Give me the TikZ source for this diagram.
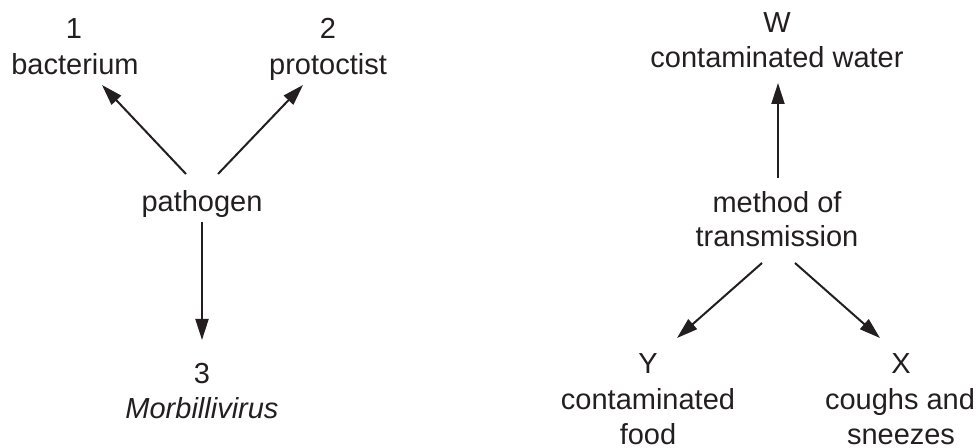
\documentclass[tikz,border=0pt]{standalone}
\usepackage{fontspec}
\setmainfont{Liberation Sans}
\usetikzlibrary{arrows.meta}
\definecolor{ink}{HTML}{231F20}
\tikzset{
  lbl/.style={anchor=base, inner sep=0pt, text=ink, font=\fontsize{14.5pt}{17.5pt}\selectfont},
  arr/.style={draw=ink, line width=1pt, -{Triangle[length=10.5pt,width=6.5pt]}}
}
\begin{document}
\begin{tikzpicture}[x=0.5pt,y=-0.5pt]
\useasboundingbox (0,0) rectangle (980,448);
% left diagram
\node[lbl] (n1) at (74,39) {1};
\node[lbl] (bact) at (75,75) {bacterium};
\node[lbl] (n2) at (328,39) {2};
\node[lbl] (prot) at (328,75) {protoctist};
\node[lbl] (path) at (202,212) {pathogen};
\node[lbl] (n3) at (202,384) {3};
\node[lbl, font=\fontsize{14.5pt}{17.5pt}\selectfont\itshape] (morb) at (202,419) {Morbillivirus};
\coordinate (pA) at (186,174);
\coordinate (pB) at (218,174);
\coordinate (pC) at (202,222);
\coordinate (tA) at (102,85);
\coordinate (tB) at (303,85);
\coordinate (tC) at (202,340);
\draw[arr] (pA) -- (tA);
\draw[arr] (pB) -- (tB);
\draw[arr] (pC) -- (tC);
% right diagram
\node[lbl] (W) at (777,33) {W};
\node[lbl] (water) at (777,68) {contaminated water};
\node[lbl] (meth) at (777,213) {method of};
\node[lbl] (trans) at (777,247) {transmission};
\node[lbl] (Y) at (648,374) {Y};
\node[lbl] (cont) at (648,410) {contaminated};
\node[lbl] (food) at (648,445) {food};
\node[lbl] (X) at (901,374) {X};
\node[lbl] (cough) at (900,410) {coughs and};
\node[lbl] (sneeze) at (901,445) {sneezes};
\coordinate (mW) at (778,178);
\coordinate (mY) at (762,263);
\coordinate (mX) at (795,263);
\coordinate (tW) at (778,83);
\coordinate (tY) at (677,338);
\coordinate (tX) at (880,338);
\draw[arr] (mW) -- (tW);
\draw[arr] (mY) -- (tY);
\draw[arr] (mX) -- (tX);
\end{tikzpicture}
\end{document}
